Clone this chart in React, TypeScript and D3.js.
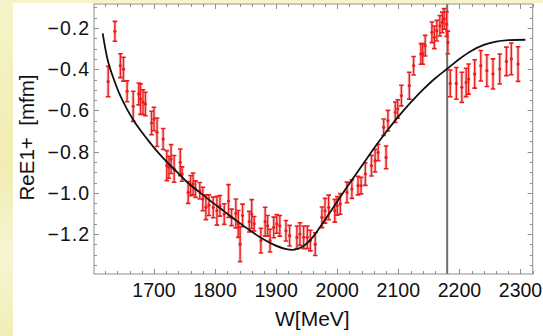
import React from "react";
import * as d3 from "d3";

// ---- data ----
const W_MEV = [
  1625, 1636, 1645, 1650, 1656, 1666, 1675, 1678, 1682, 1686, 1696, 1700, 1705, 1715,
  1721, 1724.5, 1728, 1733, 1743, 1746, 1756, 1760, 1764, 1768, 1775, 1780,
  1785, 1790, 1797, 1803, 1808, 1815, 1822, 1827, 1834, 1838, 1841, 1845, 1856, 1860,
  1864, 1875, 1882, 1886, 1890, 1896, 1901, 1906, 1916, 1922, 1934, 1939, 1945, 1951,
  1956, 1964, 1975, 1980, 1986, 1996, 2000, 2005, 2016, 2024, 2034, 2039, 2046, 2056,
  2062, 2067, 2076, 2080, 2083, 2095, 2099, 2105, 2118, 2125,
  2137, 2140, 2144, 2155, 2159, 2163, 2168, 2172, 2175, 2179, 2181,
  2185, 2195, 2204, 2211, 2215, 2225, 2235, 2245, 2255, 2266, 2277, 2285, 2296,
];
const RE_E1P = [
  -0.46, -0.216, -0.383, -0.4, -0.507, -0.58, -0.52, -0.545, -0.56, -0.569, -0.661, -0.642, -0.706, -0.739,
  -0.868, -0.876, -0.836, -0.884, -0.852, -0.909, -0.998, -0.965, -0.957, -0.982, -0.99, -1.03,
  -1.07, -1.06, -1.071, -1.087, -1.063, -1.103, -1.04, -1.119, -1.1, -1.151, -1.249, -1.11, -1.14, -1.103,
  -1.15, -1.232, -1.14, -1.16, -1.232, -1.168, -1.151, -1.16, -1.184, -1.208, -1.216, -1.2, -1.216, -1.216,
  -1.232, -1.249, -1.119, -1.087, -1.071, -1.087, -1.063, -1.054, -0.998, -0.982, -0.965, -0.965, -0.909, -0.868,
  -0.844, -0.804, -0.682, -0.828, -0.65, -0.609, -0.593, -0.528, -0.48, -0.383,
  -0.326, -0.326, -0.286, -0.221, -0.245, -0.213, -0.189, -0.173, -0.156, -0.181, -0.27,
  -0.469, -0.469, -0.488, -0.464, -0.448, -0.423, -0.383, -0.407, -0.423, -0.399, -0.362, -0.35, -0.375,
];
const ERR = [
  0.074, 0.048, 0.058, 0.058, 0.051, 0.073, 0.053, 0.074, 0.06, 0.057, 0.057, 0.057, 0.069, 0.051,
  0.073, 0.053, 0.07, 0.065, 0.065, 0.035, 0.053, 0.049, 0.053, 0.04, 0.04, 0.057,
  0.06, 0.05, 0.05, 0.07, 0.05, 0.05, 0.08, 0.04, 0.07, 0.065, 0.085, 0.055, 0.05, 0.07,
  0.035, 0.06, 0.07, 0.05, 0.055, 0.05, 0.045, 0.05, 0.05, 0.05, 0.055, 0.055, 0.055, 0.055,
  0.05, 0.055, 0.05, 0.06, 0.06, 0.055, 0.045, 0.05, 0.05, 0.045, 0.045, 0.04, 0.055, 0.05,
  0.055, 0.04, 0.04, 0.055, 0.05, 0.05, 0.045, 0.05, 0.065, 0.045,
  0.05, 0.05, 0.05, 0.05, 0.055, 0.05, 0.05, 0.05, 0.05, 0.06, 0.055,
  0.065, 0.077, 0.073, 0.069, 0.073, 0.069, 0.074, 0.077, 0.073, 0.073, 0.069, 0.077, 0.084,
];

const FIT_W = [
  1616, 1625, 1635, 1645, 1656, 1668, 1680, 1693, 1707, 1721, 1738, 1755, 1775, 1795, 1815,
  1835, 1855, 1875, 1895, 1915, 1930, 1945, 1960, 1975, 1990, 2005, 2020, 2040, 2060, 2080,
  2100, 2120, 2140, 2160, 2180, 2200, 2220, 2240, 2260, 2280, 2308,
];
const FIT_V = [
  -0.226, -0.365, -0.455, -0.53, -0.595, -0.655, -0.705, -0.755, -0.805, -0.85, -0.9, -0.95, -0.998, -1.045, -1.09,
  -1.135, -1.178, -1.218, -1.25, -1.272, -1.276, -1.258, -1.215, -1.152, -1.087, -1.02, -0.955, -0.87, -0.785, -0.705,
  -0.63, -0.562, -0.5, -0.445, -0.398, -0.35, -0.31, -0.282, -0.266, -0.259, -0.257,
];

const THRESHOLD_W = 2180;
const X_TICKS = [1700, 1800, 1900, 2000, 2100, 2200, 2300];
const Y_TICKS = [-1.2, -1.0, -0.8, -0.6, -0.4, -0.2];
const X_MINOR = d3.range(1620, 2321, 20);
const Y_MINOR = d3.range(-1.35, -0.09, 0.05);

const X_DOMAIN = [1601.8, 2320];
const Y_DOMAIN = [-1.394, -0.0835];

const FONT = "'Liberation Sans', Arial, sans-serif";

export default function App() {
  const width = 543;
  const height = 336;
  const left = 94, right = 532.7, top = 4, bottom = 274;
  const x = d3.scaleLinear().domain(X_DOMAIN).range([left, right]);
  const y = d3.scaleLinear().domain(Y_DOMAIN).range([bottom, top]);

  const fit = d3
    .line<number>()
    .x((_, i) => x(FIT_W[i]))
    .y((d) => y(d))
    .curve(d3.curveCatmullRom.alpha(0.5))(FIT_V) as string;

  const frame = "#8e8e8e";
  const red = "#ec1c1c";
  const fmt = (v: number) => (v < 0 ? "\u2212" : "") + Math.abs(v).toFixed(1);

  return (
    <svg
      width={width}
      height={height}
      style={{ position: "absolute", left: 0, top: 0, display: "block" }}
    >
      <defs>
        <linearGradient id="bgY" x1="0" y1="0" x2="0" y2="1">
          <stop offset="0" stopColor="#f6f3c8" />
          <stop offset="0.5" stopColor="#f1edb2" />
          <stop offset="0.75" stopColor="#f7f4d2" />
          <stop offset="1" stopColor="#f2eeb8" />
        </linearGradient>
        <clipPath id="plotClip">
          <rect x={left} y={top} width={right - left} height={bottom - top} />
        </clipPath>
      </defs>
      <rect x={0} y={0} width={width} height={height} fill="url(#bgY)" />
      <rect x={13} y={3} width={width - 13} height={height - 3} fill="#ffffff" />

      {/* ticks */}
      <g stroke={frame} strokeWidth={1}>
        {X_MINOR.map((t) => {
          const major = X_TICKS.includes(Math.round(t));
          const len = major ? 5 : 3;
          const px = Math.round(x(t)) + 0.5;
          return (
            <g key={"xm" + t}>
              <line x1={px} x2={px} y1={bottom} y2={bottom - len} />
              <line x1={px} x2={px} y1={top} y2={top + len} />
            </g>
          );
        })}
        {Y_MINOR.map((t) => {
          const major = Y_TICKS.some((m) => Math.abs(m - t) < 1e-6);
          const len = major ? 5 : 3;
          const py = Math.round(y(t)) + 0.5;
          return (
            <g key={"ym" + t.toFixed(2)}>
              <line x1={left} x2={left + len} y1={py} y2={py} />
              <line x1={right} x2={right - len} y1={py} y2={py} />
            </g>
          );
        })}
      </g>

      {/* threshold line */}
      <line
        x1={x(THRESHOLD_W)}
        x2={x(THRESHOLD_W)}
        y1={top}
        y2={bottom}
        stroke="#6e6e6e"
        strokeWidth={2}
      />

      {/* data with error bars */}
      <g clipPath="url(#plotClip)">
        {W_MEV.map((w, i) => {
          const px = x(w);
          const y0 = y(RE_E1P[i] + ERR[i]);
          const y1 = y(RE_E1P[i] - ERR[i]);
          return (
            <g key={"h" + i} stroke="#e9b4b4" strokeWidth={3.4} opacity={0.6}>
              <line x1={px} x2={px} y1={y0} y2={y1} />
            </g>
          );
        })}
        {W_MEV.map((w, i) => {
          const px = x(w);
          const py = y(RE_E1P[i]);
          const y0 = y(RE_E1P[i] + ERR[i]);
          const y1 = y(RE_E1P[i] - ERR[i]);
          return (
            <g key={"d" + i} stroke={red} strokeWidth={1.4}>
              <line x1={px} x2={px} y1={y0} y2={y1} />
              <line x1={px - 2.3} x2={px + 2.3} y1={y0} y2={y0} strokeWidth={1.6} />
              <line x1={px - 2.3} x2={px + 2.3} y1={y1} y2={y1} strokeWidth={1.6} />
              <circle cx={px} cy={py} r={1.6} fill={red} stroke="none" />
            </g>
          );
        })}
        <path d={fit} fill="none" stroke="#111" strokeWidth={1.8} />
      </g>

      {/* frame */}
      <rect
        x={left}
        y={top}
        width={right - left}
        height={bottom - top}
        fill="none"
        stroke={frame}
        strokeWidth={1}
      />

      {/* tick labels */}
      <g fontFamily={FONT} fontSize={19.5} fill="#111">
        {X_TICKS.map((t) => (
          <text key={"xl" + t} x={x(t)} y={297} textAnchor="middle">
            {t}
          </text>
        ))}
        {Y_TICKS.map((t) => (
          <text key={"yl" + t} x={90} y={y(t) + 7} textAnchor="end" letterSpacing={1}>
            {fmt(t)}
          </text>
        ))}
      </g>

      {/* axis labels */}
      <text
        x={(left + right) / 2 - 1}
        y={326}
        textAnchor="middle"
        fontFamily={FONT}
        fontSize={21}
        fill="#111"
      >
        W[MeV]
      </text>
      <text
        transform={`translate(33.5,137.5) rotate(-90)`}
        textAnchor="middle"
        fontFamily={FONT}
        fontSize={20.5}
        fill="#111"
        xmlSpace="preserve"
      >
        {"ReE1+  [mfm]"}
      </text>
    </svg>
  );
}
